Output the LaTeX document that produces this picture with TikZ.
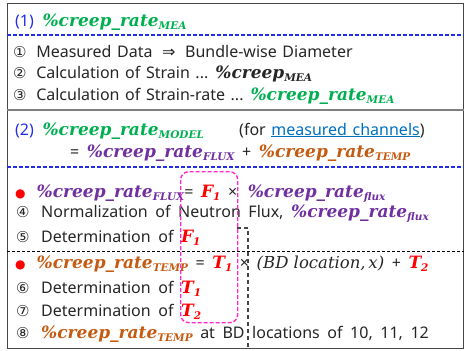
\documentclass[tikz,border=0pt]{standalone}
\usepackage{fontspec}
\setmainfont{Noto Sans}[WordSpace=1.35]
\newfontfamily\symf{DejaVu Sans}
\newfontfamily\mathf{DejaVu Serif}
\usetikzlibrary{positioning}

\definecolor{txtgray}{RGB}{38,38,38}
\definecolor{hdblue}{RGB}{35,45,235}
\definecolor{meagreen}{RGB}{0,176,80}
\definecolor{fluxpurple}{RGB}{112,48,160}
\definecolor{temporange}{RGB}{197,90,17}
\definecolor{linkblue}{RGB}{0,112,192}
\definecolor{hlpink}{RGB}{255,40,200}
\definecolor{framegray}{RGB}{70,70,70}

\newcommand{\lowsub}[1]{\raisebox{-0.45ex}{\fontsize{10.5}{12}\selectfont #1}}
\newcommand{\crate}[2]{\textcolor{#1}{\mathf\bfseries\itshape\fontsize{17}{19}\selectfont\%creep\_rate\lowsub{#2}}}
\newcommand{\coef}[2]{\textcolor{red}{\mathf\bfseries\itshape\fontsize{17}{19}\selectfont #1\lowsub{#2}}}
\newcommand{\cnum}[1]{{\symf\fontsize{15}{17}\selectfont #1}\hspace{4pt}}
\newcommand{\reddot}{\textcolor{red}{\symf\fontsize{12}{14}\selectfont●}\hspace{11pt}}

\begin{document}
\begin{tikzpicture}[x=1pt, y=-1pt,
  every node/.style={inner sep=0pt, anchor=base west, text=txtgray, font=\fontsize{16}{18}\selectfont},
  frame/.style={draw=framegray, line width=1.1pt, anchor=north west, inner sep=0pt},
  bluesep/.style={draw=hdblue, line width=1.3pt, dash pattern=on 4pt off 2pt},
  blacksep/.style={draw=black, line width=0.8pt, dash pattern=on 3pt off 2pt},
  pinkbox/.style={draw=hlpink, line width=1.4pt, dash pattern=on 4pt off 2pt, rounded corners=8pt, anchor=north west, inner sep=0pt},
  bracket/.style={draw=framegray, line width=1.6pt, dash pattern=on 4pt off 3pt}]
  \useasboundingbox (0,0) rectangle (464,351);

  \node (frame)[frame, minimum width=456pt, minimum height=345pt] at (7,3) {};

  % part (1)
  \node (h1) at (15,26) {\textcolor{hdblue}{(1)}\hspace{3pt} \crate{meagreen}{MEA}};
  \node (s1) at (13,57) {\cnum{①} Measured Data\hspace{4pt} {\symf⇒}\hspace{4pt} Bundle-wise Diameter};
  \node (s2) at (13,78) {\cnum{②} Calculation of Strain ... {\mathf\bfseries\itshape\fontsize{17}{19}\selectfont\%creep\lowsub{MEA}}};
  \node (s3) at (13,100) {\cnum{③} Calculation of Strain-rate ... \crate{meagreen}{MEA}};

  % part (2)
  \node (h2) at (15,135) {\textcolor{hdblue}{(2)}\hspace{3pt} \crate{meagreen}{MODEL}};
  \node (h2b) at (239,135) {(for \textcolor{linkblue}{\bfseries\underline{measured channels}})};
  \node (eq) at (70,157) {\textbf{=} \crate{fluxpurple}{FLUX} \textbf{+} \crate{temporange}{TEMP}};

  % flux term
  \node (b1) at (15,197) {\reddot\crate{fluxpurple}{FLUX}= \coef{F}{1} ×\hspace{3pt} \crate{fluxpurple}{flux}};
  \node (s4) at (16,217) {\cnum{④} Normalization of Neutron Flux, \crate{fluxpurple}{flux}};
  \node (s5) at (16,242) {\cnum{⑤} Determination of \coef{F}{1}};

  % temperature term
  \node (b2) at (15,268) {\reddot\crate{temporange}{TEMP} = \coef{T}{1} × {\mathf\itshape\fontsize{16.5}{19}\selectfont(BD location,\,x)} + \coef{T}{2}};
  \node (s6) at (16,293) {\cnum{⑥} Determination of \coef{T}{1}};
  \node (s7) at (16,316) {\cnum{⑦} Determination of \coef{T}{2}};
  \node (s8) at (16,338) {\cnum{⑧} \crate{temporange}{TEMP} at BD locations of 10, 11, 12};

  \node (hl)[pinkbox, minimum width=57pt, minimum height=151pt] at (180,171) {};
  \coordinate (brk) at (237,228);
  \coordinate (brkend) at (248,348);

  \draw[bluesep] (frame.west |- 0,35) -- (frame.east |- 0,35);
  \draw[draw=gray, line width=1.2pt] (frame.west |- 0,110) -- (frame.east |- 0,110);
  \draw[bluesep] (frame.west |- 0,167) -- (frame.east |- 0,167);
  \draw[blacksep] (frame.west |- 0,251) -- (frame.east |- 0,251);
  \draw[bracket] (brk) -| (brkend);
\end{tikzpicture}
\end{document}
